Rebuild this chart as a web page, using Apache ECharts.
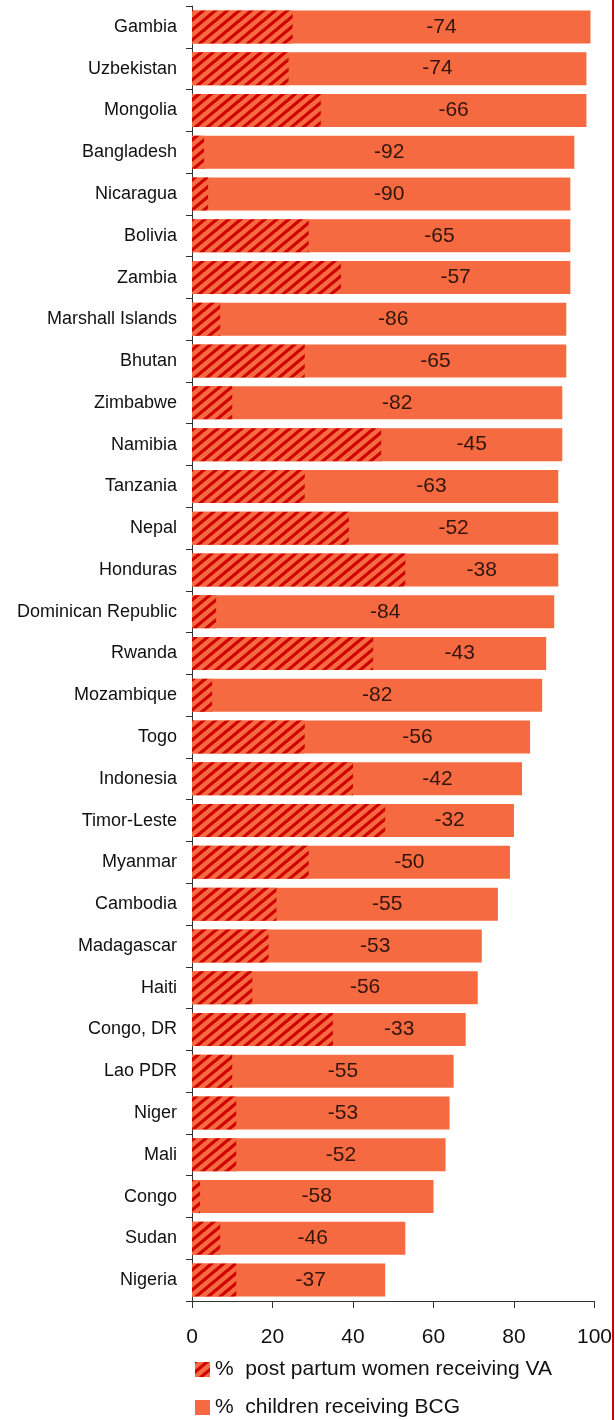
<!DOCTYPE html>
<html>
<head>
<meta charset="utf-8">
<script src="https://cdn.jsdelivr.net/npm/echarts@6/dist/echarts.min.js"></script>
<style>
  html, body { margin: 0; padding: 0; background: #fff; }
  #chart { width: 615px; height: 1420px; }
</style>
</head>
<body>
<div id="chart"></div>
<script>
// countries, top to bottom
const countries = ['Gambia', 'Uzbekistan', 'Mongolia', 'Bangladesh', 'Nicaragua', 'Bolivia', 'Zambia',
  'Marshall Islands', 'Bhutan', 'Zimbabwe', 'Namibia', 'Tanzania', 'Nepal', 'Honduras',
  'Dominican Republic', 'Rwanda', 'Mozambique', 'Togo', 'Indonesia', 'Timor-Leste', 'Myanmar',
  'Cambodia', 'Madagascar', 'Haiti', 'Congo, DR', 'Lao PDR', 'Niger', 'Mali', 'Congo', 'Sudan', 'Nigeria'];
// % post partum women receiving VA
const vaValues = [25, 24, 32, 3, 4, 29, 37, 7, 28, 10, 47, 28, 39, 53, 6, 45, 5, 28, 40, 48, 29,
  21, 19, 15, 35, 10, 11, 11, 2, 7, 11];
// % children receiving BCG
const bcgValues = [99, 98, 98, 95, 94, 94, 94, 93, 93, 92, 92, 91, 91, 91, 90, 88, 87, 84, 82, 80, 79,
  76, 72, 71, 68, 65, 64, 63, 60, 53, 48];
const xTicks = [0, 20, 40, 60, 80, 100];

const FONT = "'Liberation Sans', Arial, sans-serif";
const ORANGE = '#F56A40';
const RED = '#CE0000';
const VA_NAME = '%  post partum women receiving VA';
const BCG_NAME = '%  children receiving BCG';

// diagonal hatch for the VA bars
function makeHatch() {
  const w = 12, h = 10;
  const c = document.createElement('canvas');
  c.width = w;
  c.height = h;
  const ctx = c.getContext('2d');
  ctx.fillStyle = ORANGE;
  ctx.fillRect(0, 0, w, h);
  ctx.strokeStyle = RED;
  ctx.lineWidth = 3.2;
  ctx.beginPath();
  for (let k = -1; k <= 1; k++) {
    ctx.moveTo(k * w, h);
    ctx.lineTo(k * w + w, 0);
    ctx.moveTo(k * w, 2 * h);
    ctx.lineTo(k * w + w, h);
    ctx.moveTo(k * w, 0);
    ctx.lineTo(k * w + w, -h);
  }
  ctx.stroke();
  return c;
}
const hatch = { image: makeHatch(), repeat: 'repeat' };

// label sits midway between the two bar ends, text is the gap
const gapLabels = countries.map(function (c, i) {
  return { value: [(vaValues[i] + bcgValues[i]) / 2, i], diff: vaValues[i] - bcgValues[i] };
});

const legendText = { color: '#111', fontSize: 21, fontFamily: FONT };

const chart = echarts.init(document.getElementById('chart'));
chart.setOption({
  animation: false,
  textStyle: { fontFamily: FONT },
  grid: { left: 192, right: 20, top: 6, bottom: 119 },
  legend: [
    {
      left: 190, top: 1354, itemWidth: 15, itemHeight: 15, itemGap: 7, icon: 'rect',
      textStyle: legendText, data: [VA_NAME]
    },
    {
      left: 190, top: 1392, itemWidth: 15, itemHeight: 15, itemGap: 7, icon: 'rect',
      textStyle: legendText, data: [BCG_NAME]
    }
  ],
  xAxis: {
    type: 'value',
    min: 0,
    max: 100,
    interval: 20,
    axisLine: { show: true, lineStyle: { color: '#333', width: 1 } },
    axisTick: { show: true, length: 7, lineStyle: { color: '#333' } },
    splitLine: { show: false },
    axisLabel: {
      color: '#111', fontSize: 21, margin: 26, fontFamily: FONT,
      showMaxLabel: true,
      formatter: function (v) { return xTicks.indexOf(v) >= 0 ? String(v) : ''; }
    }
  },
  yAxis: {
    type: 'category',
    inverse: true,
    data: countries,
    axisLine: { show: true, lineStyle: { color: '#333', width: 1 } },
    axisTick: { show: true, length: 6, lineStyle: { color: '#333' } },
    axisLabel: { color: '#111', fontSize: 18, margin: 15, fontFamily: FONT }
  },
  series: [
    {
      name: BCG_NAME,
      type: 'bar',
      data: bcgValues,
      barWidth: 33,
      barGap: '-100%',
      itemStyle: { color: ORANGE },
      z: 2
    },
    {
      name: VA_NAME,
      type: 'bar',
      data: vaValues,
      barWidth: 33,
      barGap: '-100%',
      itemStyle: { color: hatch },
      z: 3
    },
    {
      name: 'gap',
      type: 'scatter',
      data: gapLabels,
      symbolSize: 1,
      itemStyle: { color: 'rgba(0,0,0,0)' },
      label: {
        show: true,
        position: 'inside',
        color: '#000',
        fontSize: 21,
        fontFamily: FONT,
        formatter: function (p) { return String(p.data.diff); }
      },
      z: 4
    }
  ],
  graphic: [
    {
      type: 'rect',
      shape: { x: 612, y: 0, width: 2, height: 1420 },
      style: { fill: RED },
      silent: true
    }
  ]
});
</script>
</body>
</html>
